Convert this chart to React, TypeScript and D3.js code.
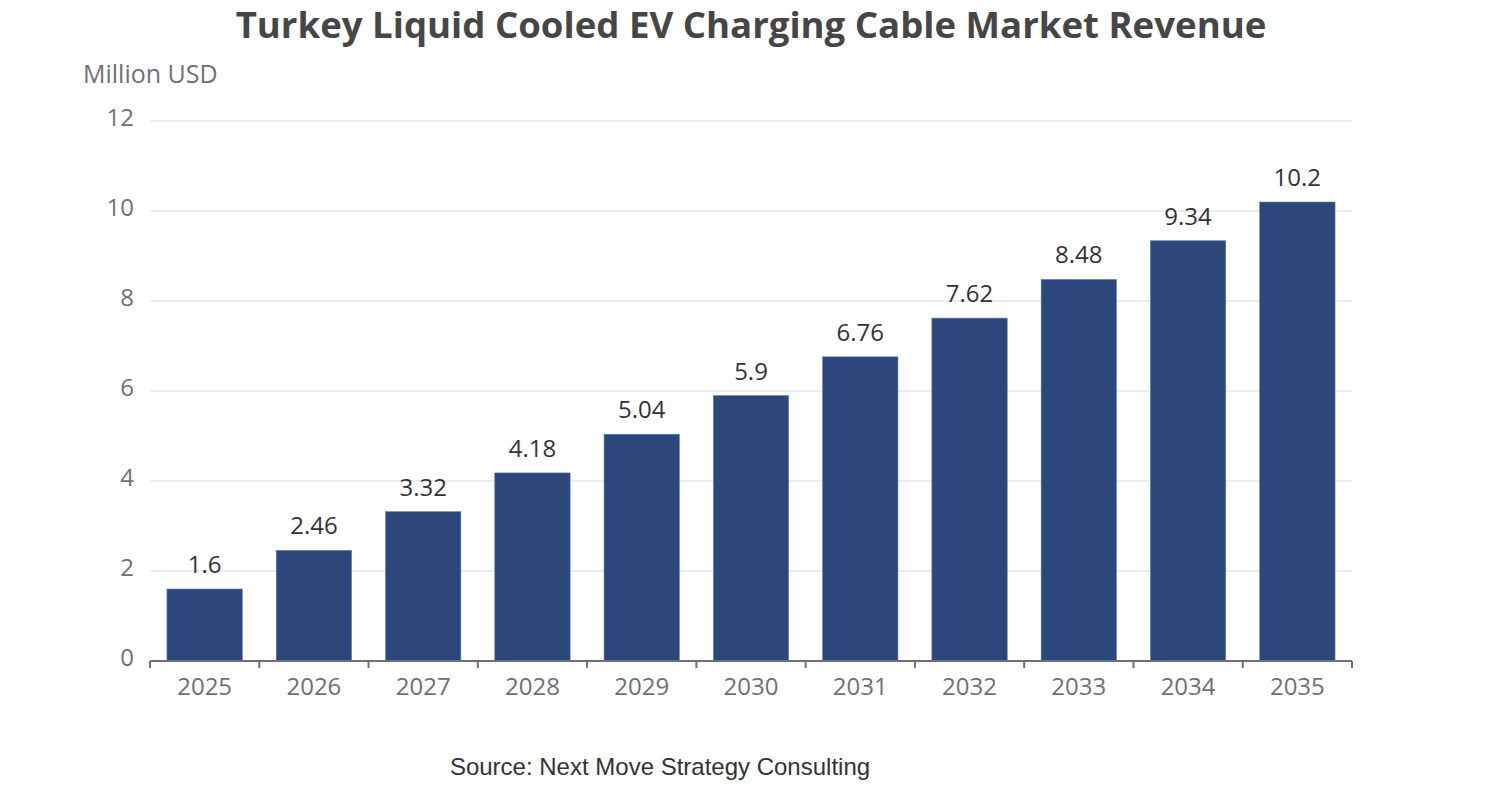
import React, { useEffect, useRef } from 'react';
import * as d3 from 'd3';

const years = ['2025', '2026', '2027', '2028', '2029', '2030', '2031', '2032', '2033', '2034', '2035'];
const revenue = [1.6, 2.46, 3.32, 4.18, 5.04, 5.9, 6.76, 7.62, 8.48, 9.34, 10.2];
const yTicks = [0, 2, 4, 6, 8, 10, 12];

const App: React.FC = () => {
  const svgRef = useRef<SVGSVGElement>(null);

  useEffect(() => {
    if (!svgRef.current) return;
    const width = 1502;
    const height = 800;
    const margin = { top: 121, right: 150, bottom: 139, left: 150 };
    const font = "'Open Sans', 'Noto Sans', sans-serif";

    const svg = d3.select(svgRef.current);
    svg.selectAll('*').remove();
    svg.attr('width', width).attr('height', height).attr('viewBox', `0 0 ${width} ${height}`);

    const x = d3.scaleBand<string>()
      .domain(years)
      .range([margin.left, width - margin.right])
      .paddingInner(0.31)
      .paddingOuter(0.155);

    const y = d3.scaleLinear()
      .domain([0, 12])
      .range([height - margin.bottom, margin.top]);

    // Title
    svg.append('text')
      .attr('x', 751)
      .attr('y', 38)
      .attr('text-anchor', 'middle')
      .style('font-family', font)
      .style('font-size', '36.6px')
      .style('font-weight', 'bold')
      .style('fill', '#464646')
      .text('Turkey Liquid Cooled EV Charging Cable Market Revenue');

    // Axis name
    svg.append('text')
      .attr('x', 83)
      .attr('y', 83)
      .style('font-family', font)
      .style('font-size', '25px')
      .style('fill', '#6e7079')
      .text('Million USD');

    // Grid lines
    svg.append('g')
      .selectAll('line')
      .data(yTicks.filter(t => t !== 0))
      .join('line')
      .attr('x1', margin.left)
      .attr('x2', width - margin.right)
      .attr('y1', d => y(d))
      .attr('y2', d => y(d))
      .attr('stroke', '#e0e6f1')
      .attr('stroke-width', 1.5);

    // Y tick labels
    svg.append('g')
      .selectAll('text')
      .data(yTicks)
      .join('text')
      .attr('x', 134)
      .attr('y', d => y(d) + 5)
      .attr('text-anchor', 'end')
      .style('font-family', font)
      .style('font-size', '24px')
      .style('fill', '#6e7079')
      .text(d => d);

    // Bars
    svg.append('g')
      .selectAll('rect')
      .data(revenue)
      .join('rect')
      .attr('x', (_, i) => x(years[i])!)
      .attr('y', d => y(d))
      .attr('width', x.bandwidth())
      .attr('height', d => y(0) - y(d))
      .attr('fill', '#2c477b')
      .attr('stroke', '#6f83a6')
      .attr('stroke-width', 0.6);

    // Value labels
    svg.append('g')
      .selectAll('text')
      .data(revenue)
      .join('text')
      .attr('x', (_, i) => x(years[i])! + x.bandwidth() / 2)
      .attr('y', d => y(d) - 16)
      .attr('text-anchor', 'middle')
      .style('font-family', font)
      .style('font-size', '24px')
      .style('fill', '#333')
      .text(d => d);

    // X axis
    const xAxis = svg.append('g');
    xAxis.append('line')
      .attr('x1', margin.left)
      .attr('x2', width - margin.right)
      .attr('y1', y(0))
      .attr('y2', y(0))
      .attr('stroke', '#6e7079')
      .attr('stroke-width', 2);

    const step = x.step();
    const tickX = d3.range(years.length + 1).map(i => margin.left + i * step);
    xAxis.selectAll('line.tick')
      .data(tickX)
      .join('line')
      .attr('class', 'tick')
      .attr('x1', d => d)
      .attr('x2', d => d)
      .attr('y1', y(0))
      .attr('y2', y(0) + 7)
      .attr('stroke', '#6e7079')
      .attr('stroke-width', 2);

    xAxis.selectAll('text')
      .data(years)
      .join('text')
      .attr('x', d => x(d)! + x.bandwidth() / 2)
      .attr('y', 695)
      .attr('text-anchor', 'middle')
      .style('font-family', font)
      .style('font-size', '24px')
      .style('fill', '#6e7079')
      .text(d => d);

    // Source
    svg.append('text')
      .attr('x', 660)
      .attr('y', 775)
      .attr('text-anchor', 'middle')
      .style('font-family', "'Liberation Sans', Arial, sans-serif")
      .style('font-size', '24px')
      .style('fill', '#333')
      .text('Source: Next Move Strategy Consulting');
  }, []);

  return <svg ref={svgRef} style={{ display: 'block', position: 'absolute', left: 0, top: 0 }}></svg>;
};

export default App;
